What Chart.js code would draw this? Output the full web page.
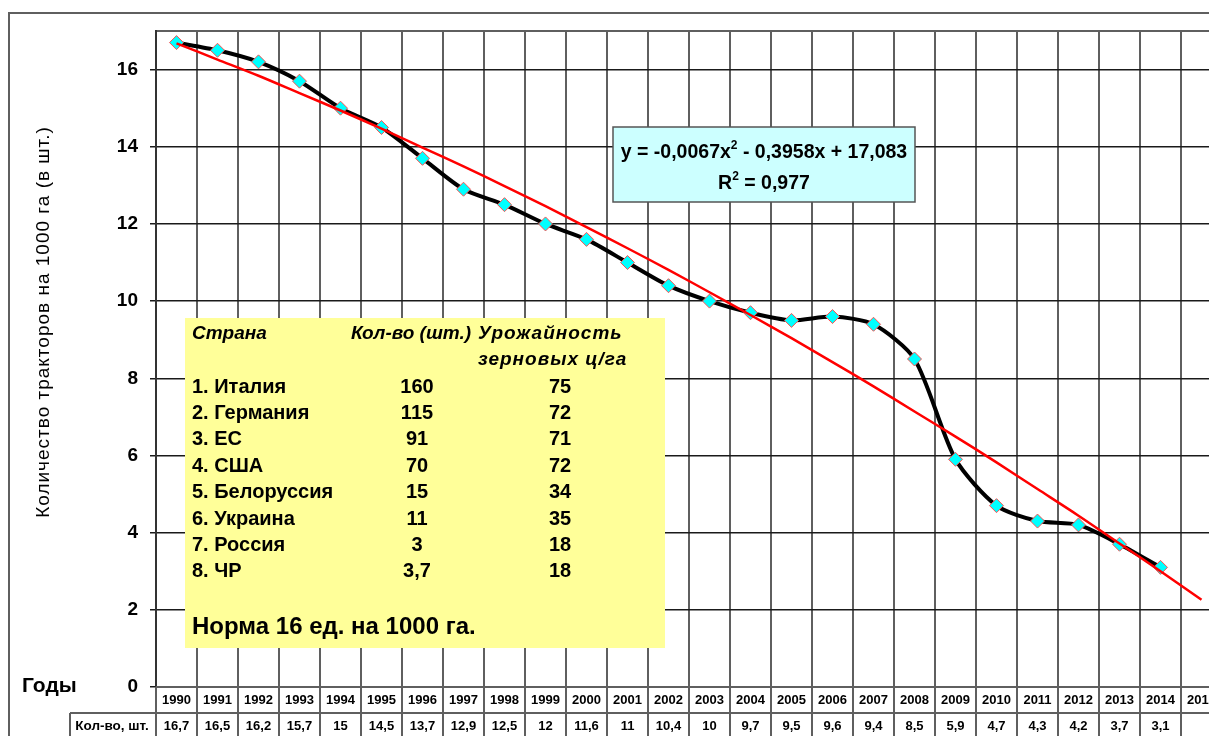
<!DOCTYPE html>
<html>
<head>
<meta charset="utf-8">
<script src="https://cdn.jsdelivr.net/npm/chart.js@4/dist/chart.umd.min.js"></script>
<style>
  html, body { margin: 0; padding: 0; background: #fff; overflow: hidden; }
  #wrap { width: 1245px; height: 745px; position: relative; }
</style>
</head>
<body>
<div id="wrap"><canvas id="tractorChart" width="1245" height="745"></canvas></div>
<script>
// Годы (категории оси X)
const years = ['1990','1991','1992','1993','1994','1995','1996','1997','1998','1999','2000','2001','2002',
               '2003','2004','2005','2006','2007','2008','2009','2010','2011','2012','2013','2014','2015'];
// Количество тракторов на 1000 га
const tractors = [16.7, 16.5, 16.2, 15.7, 15, 14.5, 13.7, 12.9, 12.5, 12, 11.6, 11, 10.4,
                  10, 9.7, 9.5, 9.6, 9.4, 8.5, 5.9, 4.7, 4.3, 4.2, 3.7, 3.1, null];
// Полиномиальная линия тренда (значения по годам)
const trend = [16.68, 16.26, 15.84, 15.39, 14.94, 14.47, 13.98, 13.49, 12.98, 12.46, 11.92, 11.37, 10.81,
               10.23, 9.64, 9.04, 8.42, 7.79, 7.14, 6.49, 5.82, 5.13, 4.44, 3.72, 3.00, 2.26];
const yTicks = [0, 2, 4, 6, 8, 10, 12, 14, 16];

// Таблица в жёлтой рамке
const countries = ['1. Италия', '2. Германия', '3. ЕС', '4. США', '5. Белоруссия', '6. Украина', '7. Россия', '8. ЧР'];
const countryTractors = ['160', '115', '91', '70', '15', '11', '3', '3,7'];
const countryYields = ['75', '72', '71', '72', '34', '35', '18', '18'];

// Уравнение: куски текста, '^' — верхний индекс
const equationParts = ['y = -0,0067x', '^2', ' - 0,3958x + 17,083'];
const r2Parts = ['R', '^2', ' = 0,977'];
const normText = 'Норма 16 ед. на 1000 га.';
const yTitle = 'Количество тракторов на 1000 га (в шт.)';

const GRID = '#5f5f5f';
const FONT = 'Arial, "Liberation Sans", sans-serif';

// строка с верхним индексом, по центру cx
function drawSup(ctx, parts, cx, cy, size) {
    const big = 'bold ' + size + 'px ' + FONT;
    const small = 'bold ' + Math.round(size * 0.62) + 'px ' + FONT;
    let total = 0;
    parts.forEach(p => {
        ctx.font = p[0] === '^' ? small : big;
        total += ctx.measureText(p[0] === '^' ? p.slice(1) : p).width;
    });
    let px = cx - total / 2;
    ctx.textAlign = 'left';
    parts.forEach(p => {
        const sup = p[0] === '^';
        const t = sup ? p.slice(1) : p;
        ctx.font = sup ? small : big;
        ctx.fillText(t, px, sup ? cy - size * 0.38 : cy);
        px += ctx.measureText(t).width;
    });
}

// Рисуем таблицу под графиком, подписи и текстовые блоки
const extrasPlugin = {
    id: 'extras',
    beforeDraw(chart) {
        const ctx = chart.ctx;
        ctx.save();
        ctx.fillStyle = '#fff';
        ctx.fillRect(0, 0, chart.width, chart.height);
        // внешняя рамка
        ctx.strokeStyle = GRID;
        ctx.lineWidth = 2;
        ctx.beginPath();
        ctx.moveTo(9, chart.height + 5);
        ctx.lineTo(9, 13);
        ctx.lineTo(chart.width + 5, 13);
        ctx.stroke();
        ctx.restore();
    },
    afterDraw(chart) {
        const ctx = chart.ctx;
        const area = chart.chartArea;
        const x = chart.scales.x;
        const half = (x.getPixelForValue(1) - x.getPixelForValue(0)) / 2;
        const rowTop = area.bottom;
        const rowMid = area.bottom + 26;
        const rowBot = rowMid + 28;
        ctx.save();

        // линии таблицы
        ctx.strokeStyle = GRID;
        ctx.lineWidth = 2;
        ctx.beginPath();
        ctx.moveTo(area.left, rowTop); ctx.lineTo(chart.width, rowTop);
        ctx.moveTo(70, rowMid); ctx.lineTo(chart.width, rowMid);
        ctx.moveTo(70, rowBot); ctx.lineTo(chart.width, rowBot);
        ctx.moveTo(70, rowMid); ctx.lineTo(70, chart.height);
        for (let i = 0; i <= years.length; i++) {
            const px = Math.round(x.getPixelForValue(i) - half);
            ctx.moveTo(px, rowTop); ctx.lineTo(px, chart.height);
        }
        ctx.stroke();

        // годы и значения
        ctx.fillStyle = '#000';
        ctx.textAlign = 'center';
        ctx.textBaseline = 'middle';
        ctx.font = 'bold 13px ' + FONT;
        years.forEach((yr, i) => {
            const px = x.getPixelForValue(i);
            ctx.fillText(yr, px, rowTop + 13);
            if (tractors[i] !== null) {
                ctx.fillText(String(tractors[i]).replace('.', ','), px, rowMid + 13);
            }
        });
        ctx.font = 'bold 13.5px ' + FONT;
        ctx.fillText('Кол-во, шт.', 112, rowMid + 13);

        ctx.font = 'bold 21px ' + FONT;
        ctx.textAlign = 'left';
        ctx.fillText('Годы', 22, area.bottom - 1);

        // подпись оси Y
        ctx.save();
        ctx.translate(44, 322);
        ctx.rotate(-Math.PI / 2);
        ctx.textAlign = 'center';
        ctx.font = '19px ' + FONT;
        ctx.letterSpacing = '1px';
        ctx.fillText(yTitle, 0, 0);
        ctx.restore();

        // уравнение тренда
        ctx.fillStyle = '#ccffff';
        ctx.fillRect(613, 127, 302, 75);
        ctx.strokeStyle = '#555';
        ctx.lineWidth = 1.5;
        ctx.strokeRect(613, 127, 302, 75);
        ctx.fillStyle = '#000';
        drawSup(ctx, equationParts, 764, 153, 19.5);
        drawSup(ctx, r2Parts, 764, 184, 19.5);

        // жёлтый блок со странами
        ctx.fillStyle = '#ffff99';
        ctx.fillRect(185, 318, 480, 330);
        ctx.fillStyle = '#000';
        ctx.textAlign = 'left';
        ctx.font = 'italic bold 19px ' + FONT;
        ctx.fillText('Страна', 192, 334);
        ctx.fillText('Кол-во (шт.)', 351, 334);
        ctx.letterSpacing = '1px';
        ctx.fillText('Урожайность', 478, 334);
        ctx.fillText('зерновых ц/га', 478, 360);
        ctx.letterSpacing = '0px';
        ctx.font = 'bold 20px ' + FONT;
        countries.forEach((c, i) => {
            const py = 387 + i * 26.4;
            ctx.textAlign = 'left';
            ctx.fillText(c, 192, py);
            ctx.textAlign = 'center';
            ctx.fillText(countryTractors[i], 417, py);
            ctx.fillText(countryYields[i], 560, py);
        });
        ctx.textAlign = 'left';
        ctx.font = 'bold 24px ' + FONT;
        ctx.fillText(normText, 192, 627);

        ctx.restore();
    }
};

const ctx = document.getElementById('tractorChart').getContext('2d');
const tractorChart = new Chart(ctx, {
    type: 'line',
    data: {
        labels: years,
        datasets: [{
            label: 'Тренд',
            data: trend,
            borderColor: '#ff0000',
            borderWidth: 2.5,
            pointRadius: 0,
            tension: 0.3,
            order: 0
        },
        {
            label: 'Кол-во, шт.',
            data: tractors,
            borderColor: '#000',
            borderWidth: 4,
            tension: 0.25,
            pointStyle: 'rectRot',
            pointRadius: 7,
            pointBackgroundColor: '#00ffff',
            pointBorderColor: '#ff5050',
            pointBorderWidth: 1,
            order: 1
        }]
    },
    options: {
        responsive: false,
        animation: false,
        layout: { padding: { top: 31, right: 23, left: 0, bottom: 0 } },
        plugins: {
            legend: { display: false },
            tooltip: { enabled: false }
        },
        scales: {
            x: {
                type: 'category',
                offset: true,
                grid: {
                    offset: true,
                    color: GRID,
                    lineWidth: 2,
                    drawTicks: false
                },
                border: { display: false },
                ticks: { display: false },
                afterFit(scale) { scale.height = 745 - 687; }
            },
            y: {
                min: 0,
                max: 17,
                afterBuildTicks(scale) {
                    scale.ticks = yTicks.map(v => ({ value: v })).concat([{ value: 17 }]);
                },
                ticks: {
                    color: '#000',
                    padding: 12,
                    font: { family: FONT, size: 19, weight: 'bold' },
                    callback: v => (v === 17 ? '' : v)
                },
                grid: {
                    color: ctx => (ctx.tick && ctx.tick.value === 17 ? GRID : '#1a1a1a'),
                    lineWidth: ctx => (ctx.tick && ctx.tick.value === 17 ? 2 : 1.5),
                    tickLength: 6,
                    tickColor: ctx => (ctx.tick && ctx.tick.value === 17 ? 'rgba(0,0,0,0)' : '#1a1a1a')
                },
                border: { color: '#333', width: 2 },
                afterFit(scale) { scale.width = 156; }
            }
        }
    },
    plugins: [extrasPlugin]
});
</script>
</body>
</html>
